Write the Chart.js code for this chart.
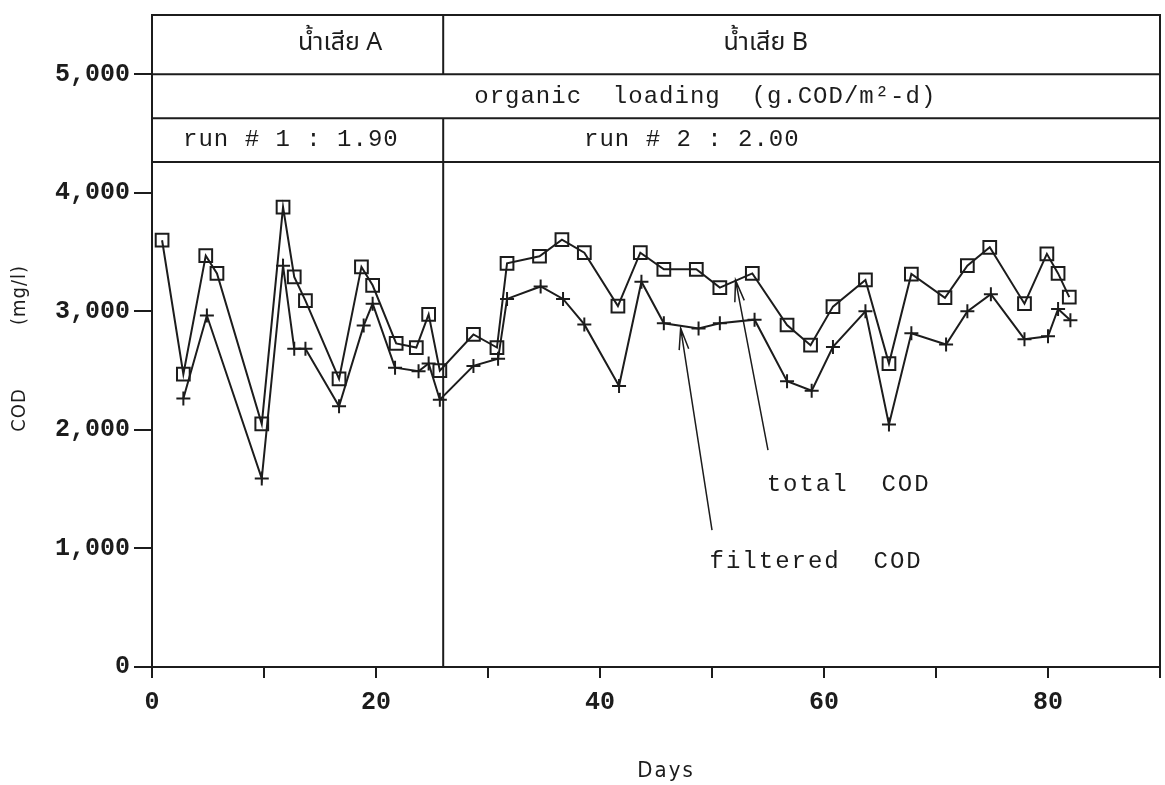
<!DOCTYPE html>
<html>
<head>
<meta charset="utf-8">
<title>COD - Days</title>
<script src="https://cdn.jsdelivr.net/npm/chart.js@4.4.1/dist/chart.umd.min.js"></script>
<style>
    html, body { margin: 0; padding: 0; background: #fff; overflow: hidden; }
    #wrap { position: relative; width: 1165px; height: 785px; }
    #codChart { display: block; }
</style>
</head>
<body>
<div id="wrap"><canvas id="codChart"></canvas></div>
<script>
(function() {
    'use strict';

    // values
    const totalDays = [0.9, 2.8, 4.8, 5.8, 9.8, 11.7, 12.7, 13.7, 16.7, 18.7, 19.7, 21.8, 23.6, 24.7, 25.7,
        28.7, 30.8, 31.7, 34.6, 36.6, 38.6, 41.6, 43.6, 45.7, 48.6, 50.7, 53.6,
        56.7, 58.8, 60.8, 63.7, 65.8, 67.8, 70.8, 72.8, 74.8, 77.9, 79.9, 80.9, 81.9];
    const totalCod = [3600, 2470, 3470, 3320, 2050, 3880, 3290, 3090, 2430, 3375, 3220, 2730, 2695, 2975, 2500,
        2805, 2695, 3405, 3465, 3605, 3495, 3045, 3495, 3355, 3355, 3200, 3320,
        2885, 2715, 3040, 3265, 2560, 3315, 3115, 3385, 3540, 3065, 3485, 3320, 3120];

    const filteredDays = [2.8, 4.9, 9.8, 11.7, 12.7, 13.7, 16.7, 18.9, 19.7, 21.7, 23.8, 24.7, 25.7,
        28.7, 30.9, 31.7, 34.7, 36.7, 38.6, 41.7, 43.7, 45.7, 48.8, 50.7, 53.8,
        56.7, 58.9, 60.8, 63.7, 65.8, 67.8, 70.9, 72.8, 74.9, 77.9, 80.0, 80.9, 82.0];
    const filteredCod = [2265, 2965, 1590, 3385, 2685, 2685, 2200, 2880, 3065, 2525, 2495, 2560, 2255,
        2540, 2600, 3105, 3210, 3105, 2890, 2370, 3250, 2900, 2855, 2900, 2930,
        2410, 2330, 2700, 3000, 2045, 2815, 2720, 3000, 3145, 2765, 2790, 3020, 2925];

    const yTicks = [0, 1000, 2000, 3000, 4000, 5000];
    const xLabelStep = 20;
    const runSplitDay = 26;

    const ink = '#1c1c1c';
    const monoFont = "'Liberation Mono', 'DejaVu Sans Mono', monospace";
    const thaiFont = "'Noto Sans Thai', 'Loma', 'Garuda', 'Norasi', 'DejaVu Sans Condensed', sans-serif";
    const sansFont = "'DejaVu Sans Condensed', 'DejaVu Sans', sans-serif";

    // header table: row separators (in COD units) and cell texts
    const headerLines = [5000, 4630, 4260];
    const headerCells = [
        { text: 'น้ำเสีย A', day: 16.8, y: 5250, font: '25px ' + thaiFont, spacing: '0px' },
        { text: 'น้ำเสีย B', day: 54.8, y: 5250, font: '25px ' + thaiFont, spacing: '0px' },
        { text: 'organic  loading  (g.COD/m²-d)', day: 49.4, y: 4815, font: '24px ' + monoFont, spacing: '1px' },
        { text: 'run # 1 : 1.90', day: 12.4, y: 4445, font: '24px ' + monoFont, spacing: '1px' },
        { text: 'run # 2 : 2.00', day: 48.2, y: 4445, font: '24px ' + monoFont, spacing: '1px' }
    ];

    const notes = [
        { text: 'total  COD', day: 62.2, y: 1535, tip: [52.1, 3263], tail: [55.0, 1830] },
        { text: 'filtered  COD', day: 59.3, y: 885, tip: [47.2, 2858], tail: [50.0, 1155] }
    ];

    function drawArrow(ctx, x0, y0, x1, y1) {
        const ang = Math.atan2(y1 - y0, x1 - x0);
        const len = 22;
        const spread = 0.22;
        ctx.beginPath();
        ctx.moveTo(x0, y0);
        ctx.lineTo(x1, y1);
        ctx.moveTo(x1 - len * Math.cos(ang - spread), y1 - len * Math.sin(ang - spread));
        ctx.lineTo(x1, y1);
        ctx.lineTo(x1 - len * Math.cos(ang + spread), y1 - len * Math.sin(ang + spread));
        ctx.stroke();
    }

    const framePlugin = {
        id: 'frame',
        beforeDatasetsDraw(chart) {
            const { ctx, chartArea: a, scales: { x, y } } = chart;
            const xd = x.getPixelForValue(runSplitDay);
            ctx.save();
            ctx.strokeStyle = ink;
            ctx.lineWidth = 2;
            ctx.beginPath();
            ctx.moveTo(a.left, a.top);
            ctx.lineTo(a.right, a.top);
            ctx.lineTo(a.right, a.bottom);
            headerLines.forEach((v) => {
                const yy = y.getPixelForValue(v);
                ctx.moveTo(a.left, yy);
                ctx.lineTo(a.right, yy);
            });
            ctx.moveTo(xd, a.top);
            ctx.lineTo(xd, y.getPixelForValue(headerLines[0]));
            ctx.moveTo(xd, y.getPixelForValue(headerLines[1]));
            ctx.lineTo(xd, a.bottom);
            ctx.stroke();
            ctx.restore();
        },
        afterDatasetsDraw(chart) {
            const { ctx, chartArea: a, scales: { x, y } } = chart;
            ctx.save();
            ctx.fillStyle = ink;
            ctx.textAlign = 'center';
            ctx.textBaseline = 'middle';

            headerCells.forEach((c) => {
                ctx.font = c.font;
                ctx.letterSpacing = c.spacing;
                ctx.fillText(c.text, x.getPixelForValue(c.day), y.getPixelForValue(c.y));
            });

            ctx.strokeStyle = ink;
            ctx.lineWidth = 1.5;
            ctx.font = '24px ' + monoFont;
            ctx.letterSpacing = '2px';
            notes.forEach((n) => {
                ctx.fillText(n.text, x.getPixelForValue(n.day), y.getPixelForValue(n.y));
                drawArrow(ctx,
                    x.getPixelForValue(n.tail[0]), y.getPixelForValue(n.tail[1]),
                    x.getPixelForValue(n.tip[0]), y.getPixelForValue(n.tip[1]));
            });

            // axis titles
            ctx.letterSpacing = '2px';
            ctx.font = '22px ' + sansFont;
            ctx.fillText('Days', (a.left + a.right) / 2 + 10, 771);

            ctx.font = '20px ' + sansFont;
            ctx.letterSpacing = '1px';
            ctx.translate(20, 0);
            ctx.rotate(-Math.PI / 2);
            ctx.fillText('COD', -410, 0);
            ctx.fillText('(mg/l)', -295, 0);
            ctx.restore();
        }
    };

    function initChart() {
        const canvas = document.getElementById('codChart');
        if (!canvas || typeof Chart === 'undefined') {
            return;
        }

        const tickFont = { family: monoFont, size: 25, weight: 'bold' };

        new Chart(canvas, {
            type: 'line',
            data: {
                datasets: [{
                    label: 'total COD',
                    data: totalDays.map((d, i) => ({ x: d, y: totalCod[i] })),
                    borderColor: ink,
                    borderWidth: 2,
                    pointStyle: 'rect',
                    pointRadius: 9,
                    pointBorderWidth: 2,
                    pointBorderColor: ink,
                    pointBackgroundColor: 'rgba(0,0,0,0)',
                    tension: 0,
                    fill: false
                }, {
                    label: 'filtered COD',
                    data: filteredDays.map((d, i) => ({ x: d, y: filteredCod[i] })),
                    borderColor: ink,
                    borderWidth: 2,
                    pointStyle: 'cross',
                    pointRadius: 7,
                    pointBorderWidth: 2,
                    pointBorderColor: ink,
                    tension: 0,
                    fill: false
                }]
            },
            options: {
                responsive: true,
                maintainAspectRatio: false,
                animation: false,
                layout: { autoPadding: false, padding: { top: 15, right: 5, left: 0, bottom: 0 } },
                plugins: { legend: { display: false }, tooltip: { enabled: false } },
                scales: {
                    x: {
                        type: 'linear',
                        min: 0,
                        max: 90,
                        ticks: {
                            stepSize: 10,
                            autoSkip: false,
                            maxRotation: 0,
                            padding: 10,
                            color: ink,
                            font: tickFont,
                            callback: (v) => (v % xLabelStep === 0 ? String(v) : '')
                        },
                        grid: { drawOnChartArea: false, tickLength: 11, color: ink, lineWidth: 2 },
                        border: { color: ink, width: 2 },
                        afterFit(scale) {
                            scale.height = 118;
                            scale.paddingLeft = 0;
                            scale.paddingRight = 0;
                        }
                    },
                    y: {
                        min: 0,
                        max: 5500,
                        afterBuildTicks(scale) {
                            scale.ticks = yTicks.map((v) => ({ value: v }));
                        },
                        ticks: {
                            padding: 4,
                            color: ink,
                            font: tickFont,
                            callback: (v) => v.toLocaleString('en-US')
                        },
                        grid: { drawOnChartArea: false, tickLength: 18, color: ink, lineWidth: 2 },
                        border: { color: ink, width: 2 },
                        afterFit(scale) {
                            scale.width = 152;
                            scale.paddingTop = 0;
                            scale.paddingBottom = 0;
                        }
                    }
                }
            },
            plugins: [framePlugin]
        });
    }

    if (document.readyState === 'loading') {
        document.addEventListener('DOMContentLoaded', initChart);
    } else {
        initChart();
    }
})();
</script>
</body>
</html>
